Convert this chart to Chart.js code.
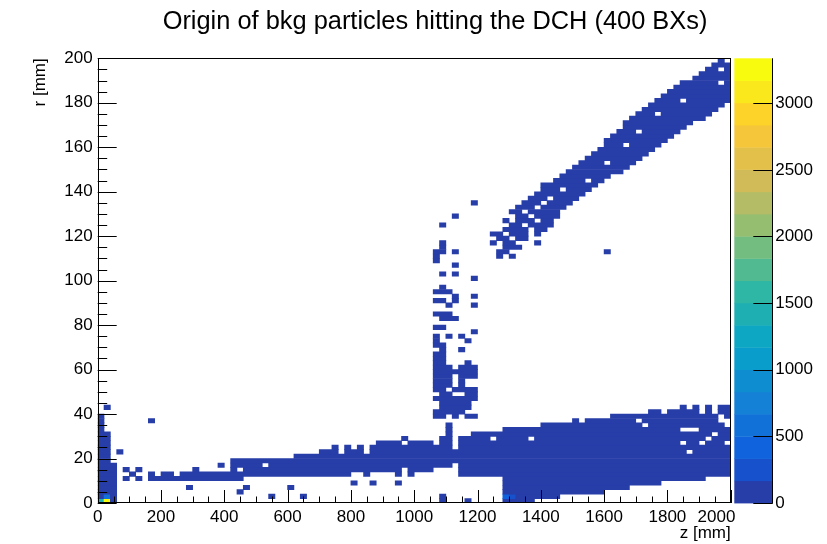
<!DOCTYPE html>
<html><head><meta charset="utf-8">
<script src="https://cdn.jsdelivr.net/npm/chart.js@4/dist/chart.umd.min.js"></script>
<style>html,body{margin:0;padding:0;background:#fff;}canvas{display:block;}</style>
</head><body>
<canvas id="c" width="827" height="544"></canvas>
<script>
// ---------------- DATA ----------------
const chartTitle = 'Origin of bkg particles hitting the DCH (400 BXs)';
const zTitle = 'z [mm]';
const rTitle = 'r [mm]';
const Z_BIN = 20;          // mm per z bin (100 bins, 0..2000)
const R_BIN = 2;           // mm per r bin (100 bins, 0..200)
const zTicks = [0,200,400,600,800,1000,1200,1400,1600,1800,2000];
const rTicks = [0,20,40,60,80,100,120,140,160,180,200];
const colorTicks = [0,500,1000,1500,2000,2500,3000];
const zCountMax = 3337;    // top of colour scale
const lowCount = 60;       // typical content of a dark-blue cell

// column runs: [zBin, rBinStart, rBinEnd]
const colRuns = [
 [0,0,19],[1,0,15],[2,0,8],[1,21,21],[3,11,11],[8,18,18],
 [4,7,7],[6,7,7],[5,6,6],[4,5,5],[6,5,5],
 [8,5,6],[9,5,5],[10,5,6],[11,5,6],[12,5,5],[13,5,6],[14,5,6],[15,5,7],[16,5,6],
 [17,5,6],[18,5,6],[19,5,6],[20,5,6],[19,8,8],
 [21,5,9],[22,5,6],[22,8,9],[23,6,9],
 [14,3,3],[23,3,3],[22,2,2],[27,1,1],[32,1,1],[30,3,3],[40,4,4],[43,4,4],[47,4,4],
 [24,6,9],[25,6,9],[26,6,9],[27,6,9],[28,6,9],[29,6,9],[30,6,9],
 [31,6,10],[32,6,10],[33,6,10],[34,6,10],[35,6,11],[36,6,11],[37,6,12],[38,6,10],
 [39,6,12],[40,7,11],[41,7,12],[42,6,10],[43,7,12],[44,7,13],[45,7,13],[46,7,13],
 [47,6,13],[48,8,12],[48,14,14],[49,6,13],[50,7,13],[51,7,13],[52,7,13],[53,8,12],
 [54,8,14],[55,8,17],[56,9,11],[57,6,14],[58,6,14],[59,6,15],[60,6,15],[61,6,15],
 [62,6,15],[63,6,15],[64,0,16],[65,0,16],[66,0,16],[67,0,16],[68,0,16],[69,1,16],
 [70,1,17],[71,1,17],[72,1,17],[73,2,17],[74,2,17],[75,2,18],[76,2,17],[77,2,18],
 [78,2,18],[79,2,18],[80,3,18],[81,3,19],[82,3,19],[83,3,19],[84,4,19],[85,4,19],
 [86,4,19],[87,4,20],[88,4,20],[89,5,19],[90,5,20],[91,5,20],[92,5,21],[93,5,20],
 [94,5,21],[95,5,19],[96,6,21],[97,6,19],[98,6,21],[99,6,21],
 [54,0,1],[58,0,0],
 // vertical structure near z ~ 1100
 [53,19,20],[54,19,22],[55,20,22],[56,19,23],[57,20,22],[58,19,19],[58,21,22],[59,19,19],
 [53,23,23],[53,25,29],[54,23,33],[55,23,24],[55,26,30],[56,23,23],[56,25,25],[56,29,29],
 [57,23,23],[57,25,30],[58,23,25],[58,28,31],[59,23,25],[59,28,30],[53,30,33],
 [54,34,35],[57,34,34],[53,35,37],[58,36,36],[55,37,37],[57,37,37],[59,38,38],
 [53,39,39],[54,39,39],[54,41,42],[55,41,42],[56,41,41],[53,42,42],
 [55,44,44],[59,44,44],[53,45,45],[54,45,45],[56,45,46],[59,46,46],[53,47,47],[54,47,48],[55,47,47],
 [59,50,50],[54,51,51],[56,51,51],[56,53,53],[53,54,56],[54,56,58],[56,56,56],
 [54,62,62],[56,64,64],[59,67,67]
];

// row runs (upper band): [rBin, zBinStart, zBinEnd]
const rowRuns = [
 [55,63,63],[55,65,65],[56,63,64],[56,80,80],[57,64,66],[58,62,62],[58,64,65],[58,69,69],
 [59,63,64],[59,66,67],[60,62,63],[60,65,67],[60,69,69],[61,64,67],[61,69,70],
 [62,65,66],[62,68,71],[63,64,64],[63,66,68],[63,70,71],[64,66,67],[64,69,72],
 [65,65,66],[65,68,72],[66,66,68],[66,70,73],[67,67,69],[67,71,74],[68,68,70],[68,72,75],
 [69,69,76],[70,70,72],[70,74,77],[71,70,78],[72,72,76],[72,78,79],[73,73,80],
 [74,74,82],[75,75,83],[76,76,79],[76,81,84],[77,77,85],[78,78,86],[79,79,87],
 [80,80,82],[80,84,88],[81,80,89],[82,81,90],[83,82,84],[83,86,91],[84,83,92],
 [85,83,93],[86,84,95],[87,85,87],[87,89,96],[88,86,97],[89,87,98],[90,88,91],[90,93,99],
 [91,89,99],[92,90,99],[93,91,99],[94,92,97],[94,99,99],[95,94,99],[96,95,99],
 [97,96,97],[97,99,99],[98,97,99],[99,98,98]
];

// empty cells inside filled areas: [zBin, rBin]
const holeCells = [
 [26,8],[62,14],[68,14],[85,18],[86,17],[92,16],[93,16],[94,16],[97,15],[96,14],
 [95,13],[92,13],[99,13],[93,11],[98,18],[98,19],[99,17],[99,18]
];

// cells with larger content: [zBin, rBin, count]
const hotCells = [[0,0,1400],[1,0,3337],[1,1,600],[64,1,450],[65,1,300]];

// ---------------- PALETTE (ROOT kBird, 20 contours) ----------------
const nLevels = 20;
const bStops = [0,0.125,0.25,0.375,0.5,0.625,0.75,0.875,1];
const bR = [0.2082,0.0592,0.0780,0.0232,0.1802,0.5301,0.8186,0.9956,0.9764];
const bG = [0.1664,0.3599,0.5041,0.6419,0.7178,0.7492,0.7328,0.7862,0.9832];
const bB = [0.5293,0.8684,0.8385,0.7914,0.6425,0.4662,0.3499,0.1968,0.0539];
function birdAt(t){
  let k=0; while(k<bStops.length-2 && t>bStops[k+1]) k++;
  const f=(t-bStops[k])/(bStops[k+1]-bStops[k]);
  const c=a=>Math.round(255*(a[k]+f*(a[k+1]-a[k])));
  return `rgb(${c(bR)},${c(bG)},${c(bB)})`;
}
function levelColor(l){
  const idx=Math.floor(0.01+(l+0.99)*255/nLevels);
  return birdAt(Math.min(idx,254)/254);
}
function levelOf(v){ return Math.max(0,Math.min(nLevels-1,Math.floor(v/(zCountMax/nLevels)))); }

// ---------------- BUILD CELLS ----------------
const cells=new Map();
const key=(i,j)=>i+','+j;
colRuns.forEach(([i,j0,j1])=>{for(let j=j0;j<=j1;j++)cells.set(key(i,j),lowCount);});
rowRuns.forEach(([j,i0,i1])=>{for(let i=i0;i<=i1;i++)cells.set(key(i,j),lowCount);});
holeCells.forEach(([i,j])=>cells.delete(key(i,j)));
hotCells.forEach(([i,j,c])=>cells.set(key(i,j),c));
const bars=[];
for(let j=0;j<200/R_BIN;j++){
  let run=null;
  for(let i=0;i<=2000/Z_BIN;i++){
    const v=cells.get(key(i,j));
    const l=v===undefined?null:levelOf(v);
    if(run && (l===null || l!==run.level)){bars.push({y:(j+0.5)*R_BIN,x:[run.i0*Z_BIN,i*Z_BIN],level:run.level});run=null;}
    if(l!==null && !run) run={i0:i,level:l};
  }
}

// ---------------- CHART ----------------
const FONT='"Liberation Sans", Arial, Helvetica, sans-serif';
const W=827, H=544;
const PLOT={left:97.7,right:730.7,top:58.3,bottom:503};

const fixLayout={
  id:'fixLayout',
  afterLayout(chart){
    const A=PLOT;
    chart.chartArea={left:A.left,top:A.top,right:A.right,bottom:A.bottom,width:A.right-A.left,height:A.bottom-A.top};
    const {x,y,cb}=chart.scales;
    Object.assign(x,{left:A.left,right:A.right,width:A.right-A.left,top:A.bottom,bottom:H,height:H-A.bottom});
    Object.assign(y,{left:0,right:A.left,width:A.left,top:A.top,bottom:A.bottom,height:A.bottom-A.top});
    Object.assign(cb,{left:A.right,right:W,width:W-A.right,top:A.top,bottom:A.bottom,height:A.bottom-A.top});
    [x,y,cb].forEach(s=>s.configure());
  }
};

const rootDecor={
  id:'rootDecor',
  afterDatasetsDraw(chart){
    const {ctx,chartArea:a,scales}=chart;
    const xs=scales.x, ys=scales.y, cb=scales.cb;
    ctx.save();
    ctx.strokeStyle='#000';ctx.lineWidth=1;
    // frame
    ctx.strokeRect(Math.round(a.left)+0.5,Math.round(a.top)+0.5,Math.round(a.right-a.left)-1,Math.round(a.bottom-a.top)-1);
    // x ticks (inside)
    const xStep=zTicks[1]-zTicks[0];
    ctx.beginPath();
    for(let v=zTicks[0];v<=zTicks[zTicks.length-1]+1e-6;v+=xStep/4){
      const px=Math.round(xs.getPixelForValue(v))+0.5;
      const major=Math.abs(v/xStep-Math.round(v/xStep))<1e-6;
      const len=major?13:6.5;
      ctx.moveTo(px,a.bottom);ctx.lineTo(px,a.bottom-len);
    }
    // y ticks (inside)
    const yStep=rTicks[1]-rTicks[0];
    for(let v=rTicks[0];v<=rTicks[rTicks.length-1]+1e-6;v+=yStep/4){
      const py=Math.round(ys.getPixelForValue(v))+0.5;
      const major=Math.abs(v/yStep-Math.round(v/yStep))<1e-6;
      const len=major?19:9.5;
      ctx.moveTo(a.left,py);ctx.lineTo(a.left+len,py);
    }
    ctx.stroke();
    // colour bar
    const cbL=734.3, cbR=772.3;
    const lv=zCountMax/nLevels;
    for(let k=0;k<nLevels;k++){
      const y0=cb.getPixelForValue(k*lv), y1=cb.getPixelForValue((k+1)*lv);
      ctx.fillStyle=levelColor(k);
      ctx.fillRect(cbL,y1,cbR-cbL,y0-y1+0.4);
    }
    ctx.beginPath();
    ctx.moveTo(Math.round(cbR)+0.5,cb.getPixelForValue(0));ctx.lineTo(Math.round(cbR)+0.5,cb.getPixelForValue(zCountMax));
    cb.ticks.forEach(t=>{
      const py=Math.round(cb.getPixelForValue(t.value))+0.5;
      ctx.moveTo(cbR-19,py);ctx.lineTo(cbR+0.5,py);
    });
    ctx.stroke();
    // title
    ctx.fillStyle='#000';
    ctx.font='25.4px '+FONT;
    ctx.textAlign='center';ctx.textBaseline='alphabetic';
    ctx.fillText(chartTitle,435,29);
    ctx.restore();
  }
};

const tickFont={family:FONT,size:17};
const FIG_SPACE='\u2007';
new Chart(document.getElementById('c'),{
  type:'bar',
  data:{datasets:[{
    data:bars,
    backgroundColor:c=>levelColor(c.raw?c.raw.level:0),
    borderWidth:0,
    barPercentage:1,categoryPercentage:1,grouped:false
  }]},
  plugins:[fixLayout,rootDecor],
  options:{
    indexAxis:'y',
    responsive:false,animation:false,devicePixelRatio:1,
    layout:{padding:0},
    plugins:{legend:{display:false},tooltip:{enabled:false},title:{display:false}},
    scales:{
      x:{type:'linear',position:'bottom',min:zTicks[0],max:zTicks[zTicks.length-1],offset:false,
         grid:{display:false,drawTicks:false,offset:false},border:{display:false},
         afterBuildTicks:s=>{s.ticks=zTicks.map(v=>({value:v}));},
         ticks:{autoSkip:false,maxRotation:0,color:'#000',font:tickFont,padding:4,
                // last label is pulled inside the frame, as ROOT does
                callback:(v,i,arr)=>i===arr.length-1?String(v)+FIG_SPACE.repeat(3):String(v)},
         title:{display:true,text:zTitle,align:'end',color:'#000',font:tickFont,padding:{top:0,bottom:0}}},
      y:{type:'linear',position:'left',min:rTicks[0],max:rTicks[rTicks.length-1],offset:false,
         grid:{display:false,drawTicks:false,offset:false},border:{display:false},
         afterBuildTicks:s=>{s.ticks=rTicks.map(v=>({value:v}));},
         ticks:{autoSkip:false,color:'#000',font:tickFont,padding:5,callback:v=>String(v)},
         title:{display:true,text:rTitle,align:'end',color:'#000',font:tickFont,padding:{top:30,bottom:0}}},
      cb:{type:'linear',position:'right',min:0,max:zCountMax,offset:false,
         grid:{display:false,drawTicks:false},border:{display:false},
         afterBuildTicks:s=>{s.ticks=colorTicks.map(v=>({value:v}));},
         ticks:{autoSkip:false,color:'#000',font:tickFont,padding:44.5,callback:v=>String(v)}}
    }
  }
});
</script>
</body></html>
